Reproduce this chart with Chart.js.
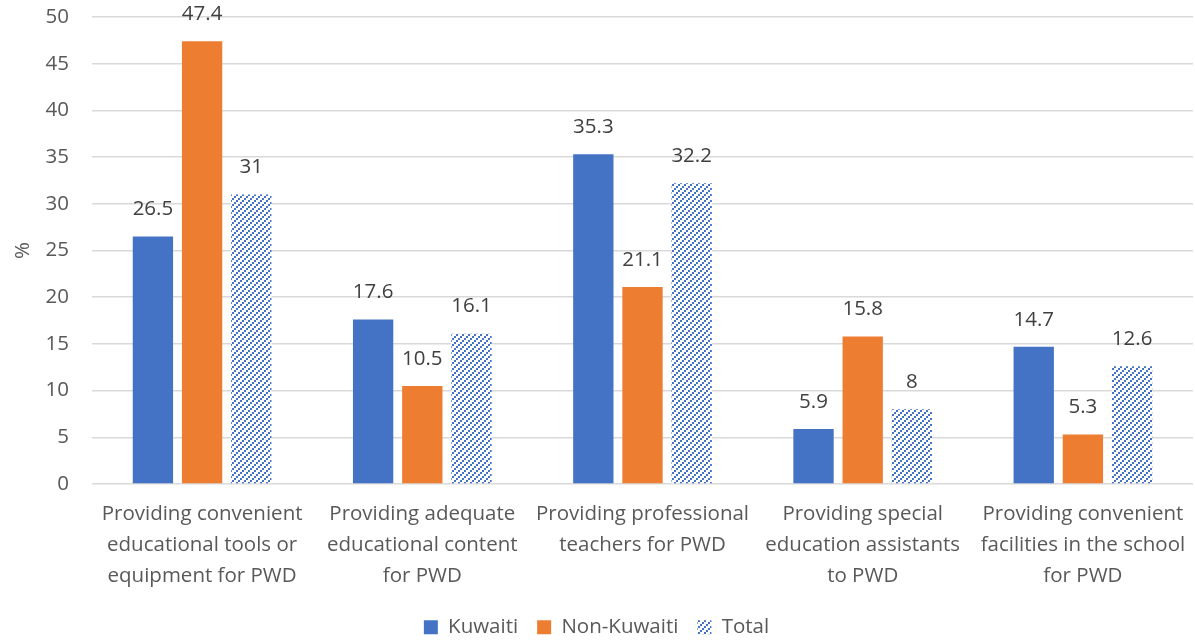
<!DOCTYPE html>
<html>
<head>
<meta charset="utf-8">
<script src="https://cdn.jsdelivr.net/npm/chart.js@4"></script>
<style>
  html, body { margin: 0; padding: 0; background: #fff; }
  #wrap { width: 1195px; height: 641px; }
</style>
</head>
<body>
<div id="wrap"><canvas id="myChart"></canvas></div>
<script>
const categories = [
  ['Providing convenient', 'educational tools or', 'equipment for PWD'],
  ['Providing adequate', 'educational content', 'for PWD'],
  ['Providing professional', 'teachers for PWD'],
  ['Providing special', 'education assistants', 'to PWD'],
  ['Providing convenient', 'facilities in the school', 'for PWD']
];
const kuwaiti = [26.5, 17.6, 35.3, 5.9, 14.7];
const nonKuwaiti = [47.4, 10.5, 21.1, 15.8, 5.3];
const total = [31, 16.1, 32.2, 8, 12.6];
const yTicks = [0, 5, 10, 15, 20, 25, 30, 35, 40, 45, 50];

const FONT = '"Open Sans", Lato, sans-serif';

// blue diagonal hatch for the Total bars
function makeHatch() {
  const c = document.createElement('canvas');
  c.width = 6; c.height = 6;
  const g = c.getContext('2d');
  g.fillStyle = '#fff';
  g.fillRect(0, 0, 6, 6);
  g.fillStyle = '#4472C4';
  g.fillRect(0, 4, 2, 2);
  g.fillRect(2, 2, 2, 2);
  g.fillRect(4, 0, 2, 2);
  return g.createPattern(c, 'repeat');
}
const hatch = makeHatch();

// value labels above each bar
const barLabels = {
  id: 'barLabels',
  afterDatasetsDraw(chart) {
    const ctx = chart.ctx;
    ctx.save();
    ctx.font = '20.5px ' + FONT;
    ctx.fillStyle = '#404040';
    ctx.textAlign = 'center';
    ctx.textBaseline = 'middle';
    chart.data.datasets.forEach((ds, i) => {
      chart.getDatasetMeta(i).data.forEach((bar, j) => {
        ctx.fillText(String(ds.data[j]), bar.x, bar.y - 27);
      });
    });
    ctx.restore();
  }
};

// keep the legend short so the plot keeps its height
const legendHeight = {
  id: 'legendHeight',
  beforeLayout(chart) {
    const lg = chart.legend;
    if (lg && !lg._short) {
      const fit = lg.fit;
      lg.fit = function () {
        fit.call(this);
        this.height = 43;
      };
      lg._short = true;
    }
  }
};

Chart.defaults.font.family = FONT;
Chart.defaults.color = '#595959';

const ctx = document.getElementById('myChart').getContext('2d');
const myChart = new Chart(ctx, {
  type: 'bar',
  data: {
    labels: categories,
    datasets: [
      { label: 'Kuwaiti', data: kuwaiti, backgroundColor: '#4472C4' },
      { label: 'Non-Kuwaiti', data: nonKuwaiti, backgroundColor: '#ED7D31' },
      { label: 'Total', data: total, backgroundColor: hatch }
    ]
  },
  options: {
    responsive: true,
    maintainAspectRatio: false,
    animation: false,
    layout: { padding: { left: 0, right: 2, top: 17, bottom: 0 } },
    datasets: {
      bar: { categoryPercentage: 0.67, barPercentage: 0.82 }
    },
    plugins: {
      legend: {
        position: 'bottom',
        labels: {
          font: { size: 20.5 },
          color: '#595959',
          boxWidth: 14,
          boxHeight: 14,
          padding: 19
        }
      },
      tooltip: { enabled: false }
    },
    scales: {
      x: {
        grid: { display: false },
        border: { display: false },
        ticks: {
          font: { size: 20.5, lineHeight: 1.5 },
          color: '#595959',
          maxRotation: 0,
          autoSkip: false,
          padding: 7
        },
        afterFit(scale) { scale.height = 114; }
      },
      y: {
        min: 0,
        max: 50,
        afterBuildTicks(scale) { scale.ticks = yTicks.map(v => ({ value: v })); },
        grid: { color: '#D9D9D9', lineWidth: 1.5, drawTicks: false },
        border: { display: false },
        ticks: { font: { size: 20.5 }, color: '#595959', padding: 23 },
        title: { display: true, text: '%', font: { size: 20.5 }, color: '#595959', padding: { top: 11, bottom: 0 } },
        afterFit(scale) {
          scale.width = 92;
          scale.paddingTop = 10;
          scale.paddingBottom = 10;
        }
      }
    }
  },
  plugins: [barLabels, legendHeight]
});
</script>
</body>
</html>
